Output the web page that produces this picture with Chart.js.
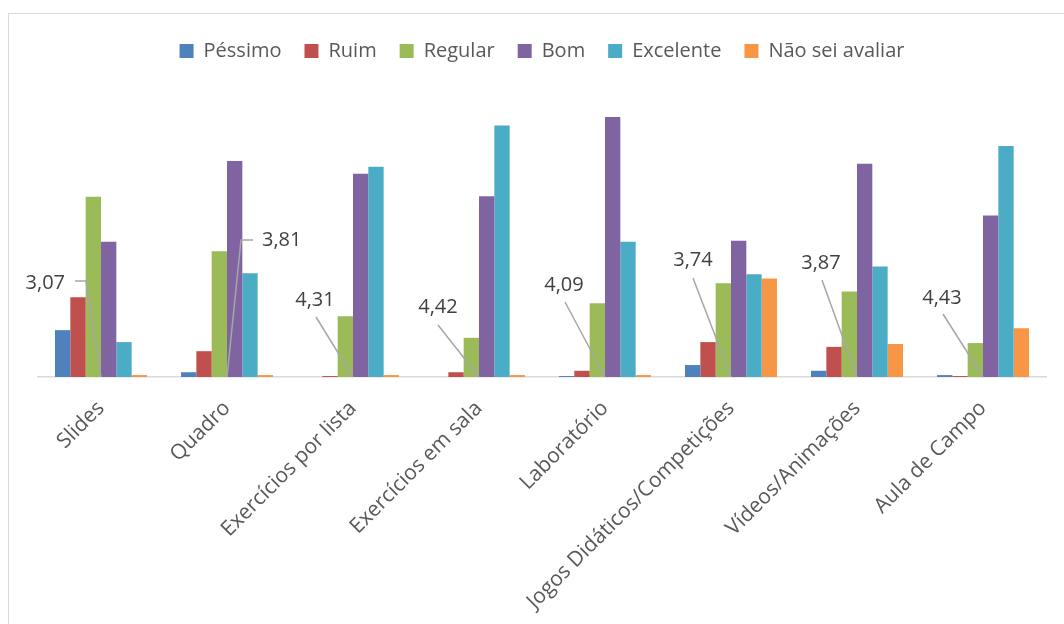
<!DOCTYPE html>
<html>
<head>
<meta charset="utf-8">
<script src="https://cdn.jsdelivr.net/npm/chart.js@4.4.1/dist/chart.umd.min.js"></script>
<style>
    html, body { margin: 0; padding: 0; background: #fff; overflow: hidden; }
    #frame {
        position: absolute; left: 8px; top: 13px;
        width: 1200px; height: 800px;
        border: 1px solid #d9d9d9;
    }
    #wrap { position: absolute; left: 0; top: 0; width: 1064px; height: 624px; }
</style>
</head>
<body>
<div id="frame"></div>
<div id="wrap"><canvas id="myChart" width="1064" height="624"></canvas></div>
<script>
const categories = [
    'Slides',
    'Quadro',
    'Exercícios por lista',
    'Exercícios em sala',
    'Laboratório',
    'Jogos Didáticos/Competições',
    'Vídeos/Animações',
    'Aula de Campo',
];

// percentual de respostas por categoria
const pessimo   = [9.8, 1.0, 0.0, 0.0, 0.2, 2.5, 1.3, 0.4];
const ruim      = [16.7, 5.4, 0.2, 1.0, 1.3, 7.3, 6.3, 0.2];
const regular   = [37.7, 26.3, 12.7, 8.2, 15.4, 19.6, 17.9, 7.1];
const bom       = [28.3, 45.2, 42.5, 37.8, 54.4, 28.5, 44.6, 33.8];
const excelente = [7.3, 21.7, 44.0, 52.6, 28.3, 21.5, 23.1, 48.3];
const naoSei    = [0.4, 0.4, 0.4, 0.4, 0.4, 20.6, 6.9, 10.2];

// nota média de cada recurso
const medias = [3.07, 3.81, 4.31, 4.42, 4.09, 3.74, 3.87, 4.43];

const textColor = '#595959';

// posição de cada rótulo da média: ponta da linha, cotovelo opcional e texto
const callouts = [
    { end: [-15, -96], tail: [-26, -96], text: [-36, -94], align: 'right' },
    { end: [14, -137], tail: [26, -137], text: [35, -137], align: 'left' },
    { end: [-37, -60], text: [-38, -77], align: 'center' },
    { end: [-41, -52], text: [-41, -70], align: 'center' },
    { end: [-40, -75], text: [-41, -92], align: 'center' },
    { end: [-38, -99], text: [-38, -117], align: 'center' },
    { end: [-35, -97], text: [-36, -114], align: 'center' },
    { end: [-40, -63], text: [-41, -79], align: 'center' },
];

const mediaLabels = {
    id: 'mediaLabels',
    afterDatasetsDraw(chart) {
        const ctx = chart.ctx;
        const x = chart.scales.x;
        const y = chart.scales.y;
        const y0 = y.getPixelForValue(0);
        ctx.save();
        medias.forEach((m, i) => {
            const cx = x.getPixelForValue(i);
            const c = callouts[i];
            ctx.strokeStyle = '#a6a6a6';
            ctx.lineWidth = 1.5;
            ctx.beginPath();
            ctx.moveTo(cx, y0);
            ctx.lineTo(cx + c.end[0], y0 + c.end[1]);
            if (c.tail) ctx.lineTo(cx + c.tail[0], y0 + c.tail[1]);
            ctx.stroke();
            ctx.fillStyle = '#404040';
            ctx.font = '20px "Open Sans"';
            ctx.textAlign = c.align;
            ctx.textBaseline = 'middle';
            ctx.fillText(m.toFixed(2).replace('.', ','), cx + c.text[0], y0 + c.text[1]);
        });
        ctx.restore();
    }
};

const data = {
    labels: categories,
    datasets: [
        { label: 'Péssimo', data: pessimo, backgroundColor: '#4f81bd' },
        { label: 'Ruim', data: ruim, backgroundColor: '#c0504d' },
        { label: 'Regular', data: regular, backgroundColor: '#9bbb59' },
        { label: 'Bom', data: bom, backgroundColor: '#8064a2' },
        { label: 'Excelente', data: excelente, backgroundColor: '#4bacc6' },
        { label: 'Não sei avaliar', data: naoSei, backgroundColor: '#f79646' },
    ]
};

const config = {
    type: 'bar',
    data: data,
    options: {
        responsive: false,
        animation: false,
        layout: { padding: { left: 38, right: 18, top: 18, bottom: 0 } },
        datasets: {
            bar: { categoryPercentage: 0.73, barPercentage: 1.0 }
        },
        plugins: {
            legend: {
                position: 'top',
                labels: {
                    boxWidth: 14,
                    boxHeight: 14,
                    padding: 23,
                    color: textColor,
                    font: { family: 'Open Sans', size: 20 }
                }
            },
            tooltip: { enabled: false }
        },
        scales: {
            x: {
                grid: { display: false, drawTicks: false },
                border: { display: true, color: '#d9d9d9', width: 1.5 },
                ticks: {
                    autoSkip: false,
                    minRotation: 45,
                    maxRotation: 45,
                    padding: 19,
                    color: textColor,
                    font: { family: 'Open Sans', size: 21 }
                },
                afterFit(scale) { scale.height = 247; }
            },
            y: {
                display: false,
                min: 0,
                max: 64
            }
        }
    },
    plugins: [mediaLabels]
};

const myChart = new Chart(
    document.getElementById('myChart'),
    config
);
</script>
</body>
</html>
